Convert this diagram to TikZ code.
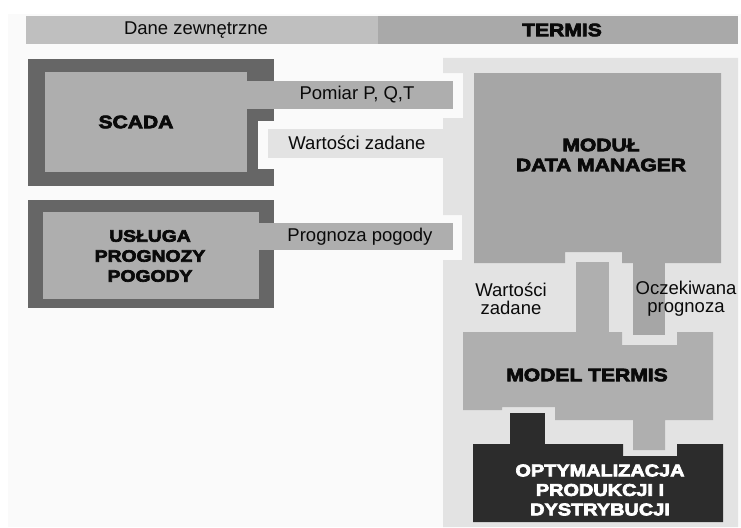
\documentclass[tikz,border=0pt]{standalone}
\usepackage{fontspec}
\setmainfont{Liberation Sans}
\newfontfamily\heavyfont{Liberation Sans Bold}[FakeBold=4,FakeStretch=1.17]
\definecolor{bgwhite}{HTML}{FAFAFA}
\definecolor{barleft}{HTML}{BFBFBF}
\definecolor{barright}{HTML}{A9A9A9}
\definecolor{darkframe}{HTML}{666666}
\definecolor{inner}{HTML}{AEAEAE}
\definecolor{panel}{HTML}{E3E3E3}
\definecolor{manager}{HTML}{A6A6A6}
\definecolor{modelgray}{HTML}{AFAFAF}
\definecolor{optim}{HTML}{2C2C2C}
\definecolor{ink}{HTML}{0A0A0A}
\begin{document}
\begin{tikzpicture}[x=1pt,y=-1pt,
    label/.style={font=\fontsize{18.5}{18}\selectfont, text=ink, inner sep=0pt, align=center},
    heavy/.style={font=\heavyfont\fontsize{18}{20}\selectfont, text=ink, inner sep=0pt, align=center}]
    \useasboundingbox (0,0) rectangle (741,527);
    \fill[white] (0,0) rectangle (741,527);
    \fill[bgwhite] (8,14) rectangle (741,527);
    % naglowek
    \fill[barleft] (26,16) rectangle (378,44);
    \fill[barright] (378,16) rectangle (738,44);
    \node[label] (zewn) at (196,30) {Dane zewnętrzne};
    \node[heavy] (termis) at (562,30) {TERMIS};
    % SCADA
    \fill[darkframe] (28,59) rectangle (274,186);
    \fill[bgwhite] (258,121) rectangle (274,169);
    \fill[inner] (45,72) rectangle (247,172);
    \fill[inner] (247,81) rectangle (453,109);
    \fill[panel] (268,129) rectangle (443,158);
    % usluga prognozy
    \fill[darkframe] (28,200) rectangle (274,308);
    \fill[inner] (43,212) rectangle (259,299);
    \fill[inner] (259,223) rectangle (453,250);
    % TERMIS
    \fill[panel] (443,58) -- (738,58) -- (738,527) -- (443,527) -- (443,260) -- (462,260)
        -- (462,215) -- (443,215) -- (443,118) -- (463,118) -- (463,73) -- (443,73) -- cycle;
    \fill[manager] (474,73) -- (721,73) -- (721,263) -- (622,263) -- (622,252) -- (565,252)
        -- (565,263) -- (474,263) -- cycle;
    \fill[manager] (633,263) rectangle (665,335);
    \fill[modelgray] (463,332) -- (622,332) -- (622,345) -- (677,345) -- (677,332) -- (713,332)
        -- (713,420) -- (665,420) -- (665,450) -- (633,450) -- (633,420) -- (555,420)
        -- (555,407) -- (502,407) -- (502,410) -- (463,410) -- cycle;
    \fill[modelgray] (576,262) rectangle (609,332);
    \fill[optim] (473,444) -- (623,444) -- (623,456) -- (677,456) -- (677,444) -- (723,444)
        -- (723,522) -- (473,522) -- cycle;
    \fill[optim] (510,413) rectangle (545,444);
    % napisy
    \node[label] (pomiar) at (357,95) {Pomiar P, Q,T};
    \node[label] (zadane) at (357,143) {Wartości zadane};
    \node[label] (pogoda) at (360,237) {Prognoza pogody};
    \node[heavy] (scada) at (136,122) {SCADA};
    \node[heavy,font=\heavyfont\fontsize{16.5}{20}\selectfont] (usluga) at (150,256) {USŁUGA\\PROGNOZY\\POGODY};
    \node[heavy] (manager) at (601,155) {MODUŁ\\DATA MANAGER};
    \node[label] (zadane2) at (511,299) {Wartości\\zadane};
    \node[label] (oczek) at (686,299) {Oczekiwana\\prognoza};
    \node[heavy] (model) at (587,375) {MODEL TERMIS};
    \node[heavy,text=white,font=\heavyfont\fontsize{17}{19.5}\selectfont] (optym) at (600,490) {OPTYMALIZACJA\\PRODUKCJI I\\DYSTRYBUCJI};
\end{tikzpicture}
\end{document}
